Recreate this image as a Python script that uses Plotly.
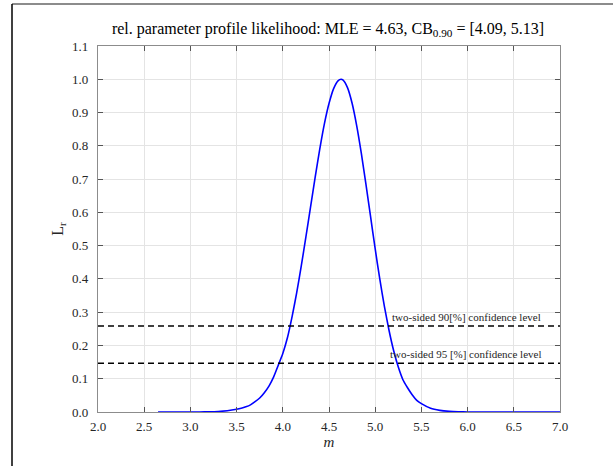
import plotly.graph_objects as go

# profile likelihood curve
m_vals = [2.65, 2.80, 3.00, 3.10, 3.20, 3.30, 3.40, 3.50, 3.55, 3.60, 3.65, 3.70,
          3.75, 3.80, 3.85, 3.90, 3.95, 4.00, 4.05, 4.10, 4.15, 4.20, 4.25, 4.30,
          4.35, 4.40, 4.45, 4.50, 4.55, 4.60, 4.63, 4.65, 4.70, 4.75, 4.80, 4.85,
          4.90, 4.95, 5.00, 5.05, 5.10, 5.15, 5.20, 5.25, 5.30, 5.35, 5.40, 5.45,
          5.50, 5.60, 5.70, 5.80, 5.90, 6.00, 6.20, 6.50, 7.00]
lr_vals = [0.0000, 0.0000, 0.0001, 0.0002, 0.0006, 0.0016, 0.0037, 0.0081, 0.0113, 0.0156, 0.0215, 0.031,
           0.042, 0.058, 0.078, 0.105, 0.140, 0.176, 0.223, 0.286, 0.358, 0.439, 0.526, 0.616,
           0.705, 0.790, 0.866, 0.927, 0.972, 0.996, 1.000, 0.998, 0.975, 0.928, 0.860, 0.777,
           0.684, 0.587, 0.490, 0.399, 0.317, 0.245, 0.184, 0.135, 0.097, 0.073, 0.052, 0.035,
           0.025, 0.011, 0.005, 0.002, 0.0007, 0.0002, 0.0000, 0.0000, 0.0000]

conf_levels = [0.2585, 0.1465]
conf_labels = ["two-sided 90[%] confidence level", "two-sided 95 [%] confidence level"]
conf_label_x = [5.16, 5.14]

x_range = [2.0, 7.0]
y_range = [0.0, 1.1]
x_ticks = [2.0, 2.5, 3.0, 3.5, 4.0, 4.5, 5.0, 5.5, 6.0, 6.5, 7.0]
y_ticks = [0.0, 0.1, 0.2, 0.3, 0.4, 0.5, 0.6, 0.7, 0.8, 0.9, 1.0, 1.1]

title_text = "rel. parameter profile likelihood: MLE = 4.63, CB<sub>0.90</sub> = [4.09, 5.13]"

W, H = 613, 466
ML, MR, MT, MB = 98, 53, 46, 54
FONT = "Liberation Serif, Times New Roman, serif"

fig = go.Figure()
fig.add_trace(go.Scatter(x=m_vals, y=lr_vals, mode="lines",
                         line=dict(color="#0000ff", width=1.6, shape="spline", smoothing=0.6),
                         showlegend=False, hoverinfo="skip"))
for lvl in conf_levels:
    fig.add_trace(go.Scatter(x=x_range, y=[lvl, lvl], mode="lines",
                             line=dict(color="black", width=1.5, dash="6px,4px"),
                             showlegend=False, hoverinfo="skip"))

annotations = []
for lvl, txt, lx in zip(conf_levels, conf_labels, conf_label_x):
    annotations.append(dict(x=lx, y=lvl, xref="x", yref="y", text=txt, showarrow=False,
                            xanchor="left", yanchor="bottom", yshift=1,
                            font=dict(family=FONT, size=11, color="#262626")))

# figure frame lines (top and left edges of the screenshot frame)
pw = W - ML - MR
ph = H - MT - MB
px = lambda p: (p - ML) / pw
py = lambda p: (H - MB - p) / ph
shapes = [
    dict(type="line", xref="paper", yref="paper", x0=px(12), x1=px(613), y0=py(4), y1=py(4),
         line=dict(color="#666666", width=1.5)),
    dict(type="line", xref="paper", yref="paper", x0=px(12), x1=px(12), y0=py(4), y1=py(466),
         line=dict(color="black", width=1.5)),
]

axis_common = dict(showgrid=True, gridcolor="#e4e4e4", gridwidth=1,
                   showline=True, linecolor="#8c8c8c", linewidth=1.2, mirror="ticks",
                   ticks="inside", ticklen=5, tickcolor="#555555", tickwidth=1,
                   zeroline=False, tickformat=".1f",
                   tickfont=dict(family=FONT, size=13, color="#262626"))

fig.update_layout(
    width=W, height=H,
    margin=dict(l=ML, r=MR, t=MT, b=MB, pad=0),
    paper_bgcolor="white", plot_bgcolor="white",
    title=dict(text=title_text, x=(328 - ML) / pw, xref="paper", xanchor="center",
               y=1 - 28 / H, yref="container", yanchor="middle",
               font=dict(family=FONT, size=16, color="black")),
    xaxis=dict(range=x_range, tickvals=x_ticks, ticklabelstandoff=2,
               title=dict(text="<i>m</i>", font=dict(family=FONT, size=15, color="#262626"),
                          standoff=1),
               **axis_common),
    yaxis=dict(range=y_range, tickvals=y_ticks, ticklabelstandoff=6,
               title=dict(text="L<sub>r</sub>", font=dict(family=FONT, size=16, color="#262626"),
                          standoff=4),
               **axis_common),
    annotations=annotations,
    shapes=shapes,
)

fig.write_html("out.html", config={"displayModeBar": False},
               post_script="document.body.style.margin='0';")
